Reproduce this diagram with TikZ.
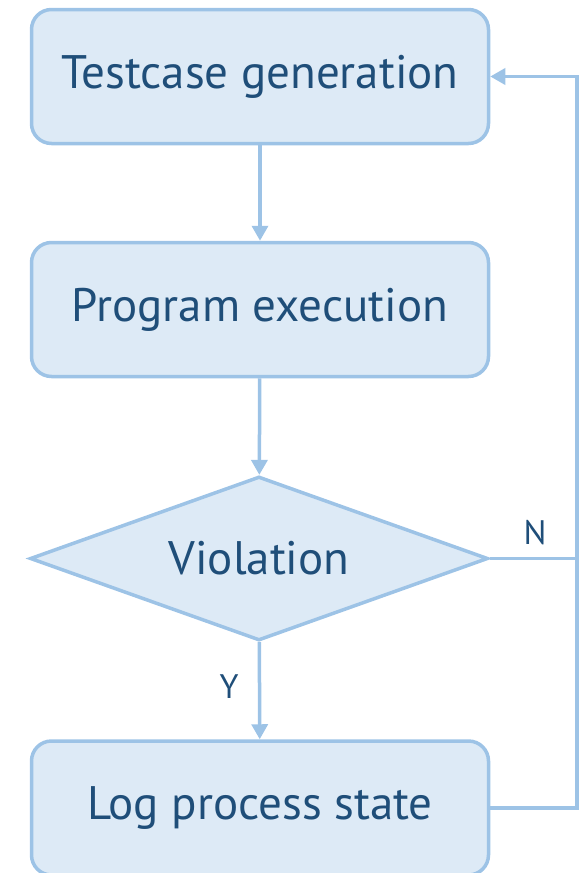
\documentclass[tikz,border=0pt]{standalone}
\usepackage{fontspec}
\setmainfont{PT Sans}
\usetikzlibrary{shapes.geometric,arrows.meta}
\definecolor{boxfill}{HTML}{DDEAF6}
\definecolor{boxline}{HTML}{9DC3E6}
\definecolor{boxtext}{HTML}{1F4E79}
\tikzset{
	stepbox/.style={draw=boxline, fill=boxfill, line width=3.5pt, rounded corners=20pt,
		minimum width=457pt, minimum height=134pt, inner sep=0pt,
		text=boxtext, font=\fontsize{47}{52}\selectfont},
	decide/.style={diamond, aspect=2.8, draw=boxline, fill=boxfill, line width=3.5pt,
		minimum width=458pt, minimum height=164pt, inner sep=0pt,
		text=boxtext, font=\fontsize{47}{52}\selectfont},
	flow/.style={draw=boxline, line width=3.5pt, -{Triangle[width=16pt,length=15pt]}},
	tag/.style={text=boxtext, font=\fontsize{34}{38}\selectfont, inner sep=0pt}
}
\begin{document}
\begin{tikzpicture}[x=1pt,y=1pt]
	\useasboundingbox (0,0) rectangle (583,-873);
	\node [stepbox] (gen) at (260,-76.5) {Testcase generation};
	\node [stepbox] (exec) at (260,-309.5) {Program execution};
	\node [decide] (viol) at (259,-558.5) {Violation};
	\node [stepbox] (log) at (260,-808) {Log process state};
	\coordinate (rt) at (577,-76.5);
	\draw [flow] (gen) -- (exec);
	\draw [flow] (exec) -- (viol);
	\draw [flow] (viol) -- (log);
	\node [tag] at (229,-687) {Y};
	\draw [boxline, line width=3.5pt] (viol.east) -- (viol.east -| rt);
	\node [tag] at (535,-533) {N};
	\draw [flow, line cap=rect] (log.east) -| (rt) -- (gen.east);
\end{tikzpicture}
\end{document}
